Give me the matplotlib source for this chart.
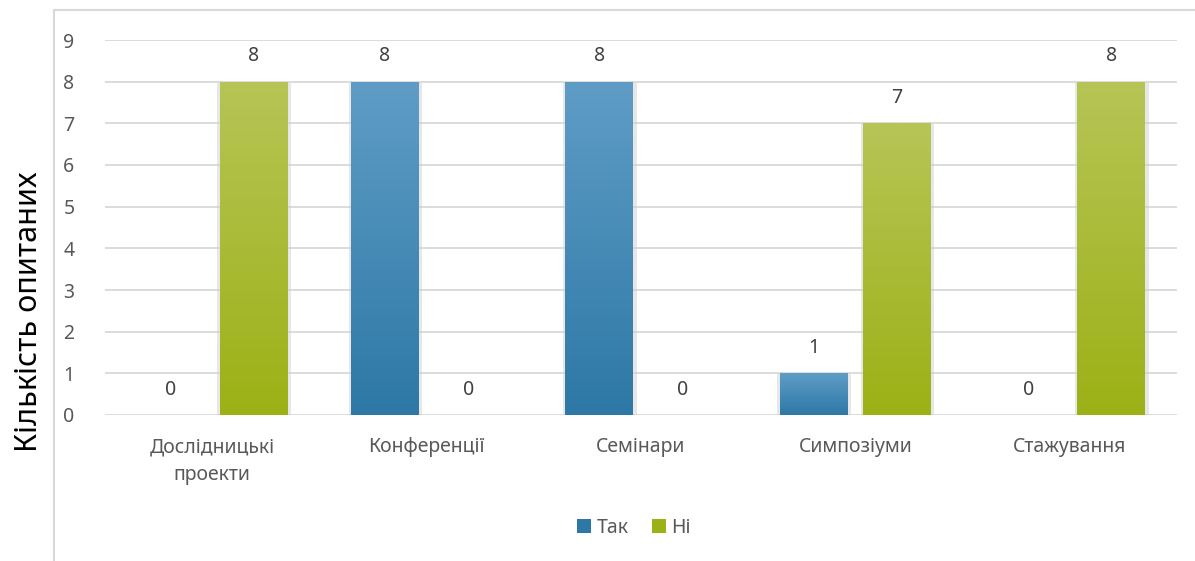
import numpy as np
import matplotlib
matplotlib.use("Agg")
import matplotlib.pyplot as plt
from matplotlib.colors import LinearSegmentedColormap
from matplotlib.lines import Line2D
from matplotlib.patches import Patch

plt.rcParams['font.family'] = ['Noto Sans', 'DejaVu Sans']

categories = ["Дослідницькі\nпроекти", "Конференції", "Семінари", "Симпозіуми", "Стажування"]
yes_values = [0, 8, 8, 1, 0]
no_values = [8, 0, 0, 7, 8]
series_names = ["Так", "Ні"]
y_ticks = list(range(0, 10))
y_label = "Кількість опитаних"

blue_top, blue_bottom = "#5f9dc6", "#2d78a6"
green_top, green_bottom = "#b6c556", "#9cb116"
text_color = "#595959"
grid_color = "#d9d9d9"
fs = 14

fig = plt.figure(figsize=(11.95, 5.61), dpi=100)
ax = fig.add_axes([105 / 1195, 146 / 561, (1177 - 105) / 1195, (521 - 146) / 561])

x = np.arange(len(categories))
width = 0.317
offset = 0.194


def gradient_bars(xpos, values, top, bottom):
    cmap = LinearSegmentedColormap.from_list("g", [bottom, top])
    # soft shadow behind each bar
    ax.bar(xpos + 0.002, [v + 0.04 if v > 0 else 0 for v in values], width + 0.026,
           bottom=-0.06, color="#d0d0d0", alpha=0.5, zorder=2, linewidth=0)
    bars = ax.bar(xpos, values, width, color=bottom, zorder=3, linewidth=0)
    grad = np.linspace(0, 1, 256).reshape(-1, 1)
    for b in bars:
        h = b.get_height()
        if h <= 0:
            continue
        im = ax.imshow(grad, cmap=cmap, origin="lower", aspect="auto",
                       extent=(b.get_x(), b.get_x() + b.get_width(), 0, h), zorder=4)
        im.set_clip_path(b)
    ax.bar_label(bars, padding=11, fontsize=fs, color="#404040")
    return bars


gradient_bars(x - offset, yes_values, blue_top, blue_bottom)
gradient_bars(x + offset, no_values, green_top, green_bottom)

ax.set_xlim(-0.5, len(categories) - 0.5)
ax.set_ylim(0, 9)
ax.set_yticks(y_ticks)
ax.set_xticks(x)
ax.set_xticklabels(categories, fontsize=fs, color=text_color, linespacing=1.55)
ax.tick_params(axis="y", labelsize=fs, labelcolor=text_color, length=0, pad=22)
ax.tick_params(axis="x", length=0, pad=16)
ax.yaxis.grid(True, color=grid_color, linewidth=1.3, zorder=0)
ax.set_axisbelow(True)
for s in ax.spines.values():
    s.set_visible(False)

fig.text(29 / 1195, 1 - 312 / 561, y_label, rotation=90, fontsize=22,
         color="black", ha="center", va="center")

# chart area frame (top and left edges visible)
fig.add_artist(Line2D([54 / 1195, 54 / 1195], [0, 1 - 10 / 561], transform=fig.transFigure,
                      color=grid_color, linewidth=1.5))
fig.add_artist(Line2D([54 / 1195, 1], [1 - 10 / 561, 1 - 10 / 561], transform=fig.transFigure,
                      color=grid_color, linewidth=1.5))

handles = [Patch(facecolor=blue_bottom), Patch(facecolor=green_bottom)]
fig.legend(handles, series_names, loc="center", bbox_to_anchor=(634 / 1195, 1 - 528 / 561),
           ncol=2, frameon=False, fontsize=fs, labelcolor=text_color,
           handlelength=0.7, handleheight=0.7, handletextpad=0.3, columnspacing=1.2)

fig.savefig("out.png", dpi=100)
